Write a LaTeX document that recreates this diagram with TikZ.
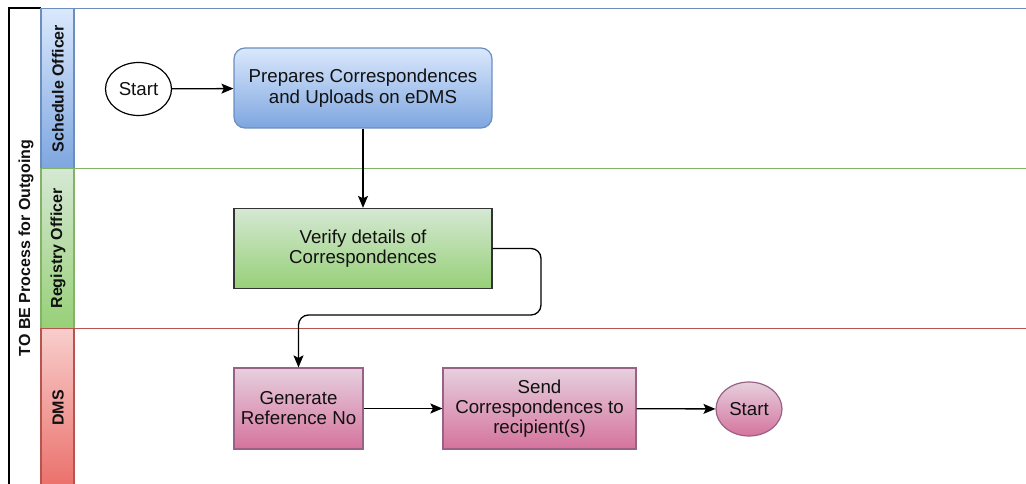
\documentclass[tikz,border=0pt]{standalone}
\usepackage{fontspec}
\setmainfont{Liberation Sans}
\usetikzlibrary{shapes.geometric,arrows.meta,calc}

\definecolor{blueA}{HTML}{DAE8FC}
\definecolor{blueB}{HTML}{7EA6E0}
\definecolor{blueS}{HTML}{6C8EBF}
\definecolor{greenA}{HTML}{D5E8D4}
\definecolor{greenB}{HTML}{97D077}
\definecolor{greenS}{HTML}{82B366}
\definecolor{redA}{HTML}{F8CECC}
\definecolor{redB}{HTML}{EA6B66}
\definecolor{redS}{HTML}{B85450}
\definecolor{pinkA}{HTML}{E6D0DE}
\definecolor{pinkB}{HTML}{D5739D}
\definecolor{pinkS}{HTML}{996185}
\definecolor{ink}{HTML}{111111}

\tikzset{
  boxtext/.style={font=\fontsize{18.7}{20}\selectfont, text=ink, align=center, inner sep=0pt},
  lanetext/.style={font=\bfseries\fontsize{16}{19}\selectfont, text=ink, rotate=90},
  bluebox/.style={boxtext, draw=blueS, line width=1.2pt, rounded corners=11pt,
    top color=blueA, bottom color=blueB},
  greenbox/.style={boxtext, draw=black!80, line width=1.3pt,
    top color=greenA, bottom color=greenB},
  pinkbox/.style={boxtext, draw=pinkS, line width=1.2pt,
    top color=pinkA, bottom color=pinkB},
  flow/.style={draw=black, line width=1.3pt, -{Stealth[length=12pt,width=10pt,inset=2.5pt]}},
}

\begin{document}
\begin{tikzpicture}[x=1pt,y=-1pt]
\useasboundingbox (0,0) rectangle (1026,484);
\fill[white] (0,0) rectangle (1026,484);

% pool frame with its title strip
\draw[black, line width=1.2pt] (9,490) -- (9,8) -- (41,8);
\node[font=\bfseries\fontsize{16}{19}\selectfont, text=ink, rotate=90] (pooltitle) at (26,248) {TO BE Process for Outgoing};

% lane label strips
\draw[draw=blueS, line width=1.3pt, top color=blueA, bottom color=blueB] (41,8.5) rectangle (74,168.5);
\draw[draw=greenS, line width=1.3pt, top color=greenA, bottom color=greenB] (41,168.5) rectangle (74,328.5);
\draw[draw=redS, line width=1.3pt, top color=redA, bottom color=redB] (41,328.5) rectangle (74,495);

% lane bodies
\draw[draw=blueS, line width=1.3pt] (74,168.5) -- (74,8.5) -- (1030,8.5);
\draw[draw=greenS, line width=1.3pt] (74,328.5) -- (74,168.5) -- (1030,168.5);
\draw[draw=redS, line width=1.3pt] (74,495) -- (74,328.5) -- (1030,328.5);

\node[lanetext] (lane1) at (58,88.5) {Schedule Officer};
\node[lanetext] (lane2) at (58,248.5) {Registry Officer};
\node[lanetext] (lane3) at (58,408) {DMS};

% process steps
\node[ellipse, draw=black, line width=1.2pt, fill=white, minimum width=66pt, minimum height=53pt,
  font=\fontsize{18.7}{20}\selectfont, text=ink, inner sep=0pt] (start) at (138.5,89) {Start};
\node[bluebox, minimum width=258pt, minimum height=80pt] (prep) at (363,88)
  {Prepares Correspondences\\[1.5pt]and Uploads on eDMS};
\node[greenbox, minimum width=258pt, minimum height=80pt] (verify) at (363,248.5)
  {Verify details of\\Correspondences};
\node[pinkbox, minimum width=129pt, minimum height=81pt] (gen) at (298.5,408.5)
  {Generate\\Reference No};
\node[pinkbox, minimum width=193pt, minimum height=81pt] (send) at (539.5,408.5)
  {Send\\Correspondences to\\recipient(s)};
\node[ellipse, draw=pinkS, line width=1.2pt, top color=pinkA, bottom color=pinkB,
  minimum width=66pt, minimum height=54pt, font=\fontsize{18.7}{20}\selectfont, text=ink,
  inner sep=0pt] (finish) at (749,409) {Start};

% connectors
\coordinate (bend) at (541,315);
\draw[flow] (start) -- (prep);
\draw[flow] (prep) -- (verify);
\draw[flow, rounded corners=10pt] (verify.east) -| (bend) -| (gen.north);
\draw[flow] (gen) -- (send);
\draw[flow] (send) -- (finish);
\end{tikzpicture}
\end{document}
